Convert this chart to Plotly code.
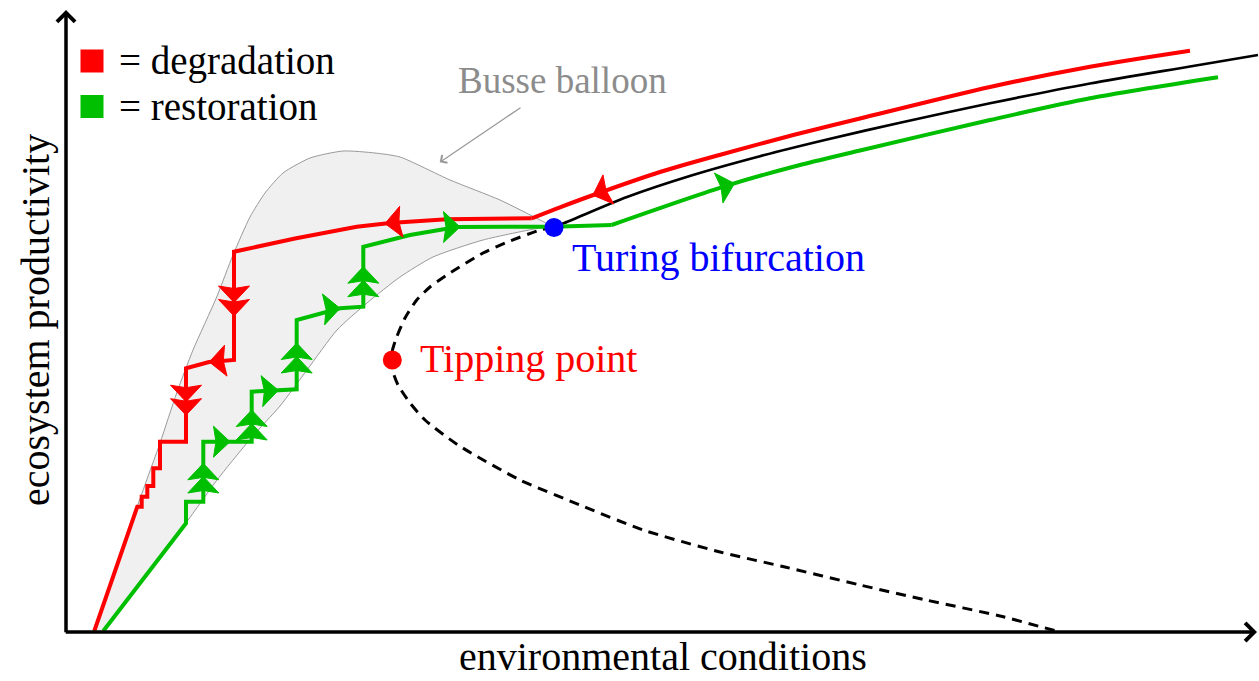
import math
import plotly.graph_objects as go

# ---------------- data (x = environmental conditions, y = ecosystem productivity) -------------
# degradation path (travel order, from high to low environmental conditions)
red_x = [1124, 1024, 924, 794, 727.3, 660.7, 594, 527.3, 494, 465.7, 380.7, 324, 290.7, 229, 168, 168,
         143, 120, 120, 94, 94, 87.3, 87.3, 81.3, 81.3, 75.7, 75.7, 71.3, 28.3]
red_y = [581.3, 565.3, 545, 513.5, 497, 479, 460, 437, 424.7, 413.7, 412.7, 409, 405.3, 393.5, 380.3, 272,
         270, 263.7, 190.3, 190.3, 163.7, 163.7, 146, 146, 135.3, 135.3, 125.3, 125.3, 1]
RED_SMOOTH_END = 10      # first 10 points form the smooth upper branch

# restoration path (travel order, from low to high environmental conditions)
green_x = [37.3, 120, 120, 137.3, 137.3, 185.7, 185.7, 230.7, 230.7, 274, 297.3, 297.3, 344, 390.7,
           487, 545.7, 660.7, 727.3, 794, 924, 1024, 1152]
green_y = [1, 108.7, 130.3, 130.3, 190.3, 190.3, 240.3, 242.7, 312, 323.7, 325.3, 385.3, 397, 405,
           405.3, 407, 446.3, 465.3, 481.5, 512, 533.7, 554.7]
GREEN_SMOOTH_START = 15  # smooth upper branch starts here

# stable uniform vegetation branch
black_x = [487, 497, 561, 627, 694, 761, 834, 924, 1024, 1124, 1192]
black_y = [405, 408.5, 435, 457, 475.8, 492.5, 509.3, 528.7, 548.5, 565.5, 577]

# unstable branch (dashed)
dash_x = [487, 474, 444, 417, 384, 364, 350.7, 339, 330.7, 326.5, 326, 327, 332, 344, 359, 392, 454,
          514, 577, 654, 719, 794, 860, 934, 994]
dash_y = [405, 402, 391, 379, 359, 345, 332, 314, 295, 282, 272, 260, 247, 229, 212, 187, 152,
          127, 102, 80, 65, 47, 32, 16, 0]

# Busse balloon outline
balloon_x = [28, 49, 71, 94, 110.7, 127, 150.7, 167, 184, 199, 217, 244, 277, 309, 334, 384, 434, 474,
             487, 474, 417, 367, 334, 301, 271, 241, 214, 194, 181, 151, 120, 79, 37]
balloon_y = [0, 62, 125, 189, 239, 282, 335, 377, 415, 439, 459, 474, 481, 479, 475, 452, 432, 412,
             405, 404, 392, 375, 355, 329, 302, 262, 226, 204, 189, 152, 109, 54, 0]

# arrow tips along the paths
red_arrow_x = [525.7, 319, 168, 168, 143.3, 120, 120]
red_arrow_y = [440, 408.3, 329.5, 316, 270.3, 230.3, 216.8]
green_arrow_x = [137.3, 137.3, 164, 185.7, 185.7, 212.3, 230.7, 230.7, 274, 297.3, 297.3, 394, 669]
green_arrow_y = [168.7, 155.5, 190.3, 222, 208.5, 243, 289, 275.5, 324, 365.3, 351.8, 405.3, 447]

turing_point = (488, 404.5)
tipping_point = (326.3, 272)

legend_labels = ["= degradation", "= restoration"]
axis_labels = ["environmental conditions", "ecosystem productivity"]

RED = "#ff0000"
GREEN = "#00bf00"
FONT = "Liberation Serif, Times New Roman, serif"
HEAD_LEN, HEAD_WID, HEAD_NOTCH = 16.5, 31, 14


def snap(px_, py_, xs, ys):
    best = None
    for i in range(len(xs) - 1):
        x0, y0, x1, y1 = xs[i], ys[i], xs[i + 1], ys[i + 1]
        dx, dy = x1 - x0, y1 - y0
        L2 = dx * dx + dy * dy
        if L2 == 0:
            continue
        t = max(0.0, min(1.0, ((px_ - x0) * dx + (py_ - y0) * dy) / L2))
        qx, qy = x0 + t * dx, y0 + t * dy
        d = (qx - px_) ** 2 + (qy - py_) ** 2
        if best is None or d < best[0]:
            L = math.sqrt(L2)
            best = (d, qx, qy, dx / L, dy / L)
    return best[1:]


def heads(ax, ay, xs, ys):
    hx, hy = [], []
    for a, b in zip(ax, ay):
        tx, ty, ux, uy = snap(a, b, xs, ys)
        nx, ny = -uy, ux
        bx, by = tx - HEAD_LEN * ux, ty - HEAD_LEN * uy
        hx += [tx, bx + nx * HEAD_WID / 2, tx - HEAD_NOTCH * ux, bx - nx * HEAD_WID / 2, tx, None]
        hy += [ty, by + ny * HEAD_WID / 2, ty - HEAD_NOTCH * uy, by - ny * HEAD_WID / 2, ty, None]
    return hx, hy


fig = go.Figure()

fig.add_trace(go.Scatter(x=balloon_x, y=balloon_y, mode="lines", fill="toself",
                         fillcolor="#f0f0f0", line=dict(color="#9a9a9a", width=1, shape="spline", smoothing=0.6),
                         hoverinfo="skip"))
fig.add_trace(go.Scatter(x=black_x, y=black_y, mode="lines",
                         line=dict(color="black", width=2.7, shape="spline", smoothing=0.8)))
fig.add_trace(go.Scatter(x=dash_x, y=dash_y, mode="lines",
                         line=dict(color="black", width=3, dash="10px,7px", shape="spline", smoothing=0.6)))
fig.add_trace(go.Scatter(x=red_x[:RED_SMOOTH_END], y=red_y[:RED_SMOOTH_END], mode="lines",
                         line=dict(color=RED, width=4, shape="spline", smoothing=0.8)))
fig.add_trace(go.Scatter(x=red_x[RED_SMOOTH_END - 1:], y=red_y[RED_SMOOTH_END - 1:], mode="lines",
                         line=dict(color=RED, width=4)))
fig.add_trace(go.Scatter(x=green_x[:GREEN_SMOOTH_START + 1], y=green_y[:GREEN_SMOOTH_START + 1], mode="lines",
                         line=dict(color=GREEN, width=4)))
fig.add_trace(go.Scatter(x=green_x[GREEN_SMOOTH_START:], y=green_y[GREEN_SMOOTH_START:], mode="lines",
                         line=dict(color=GREEN, width=4, shape="spline", smoothing=0.8)))

rx, ry = heads(red_arrow_x, red_arrow_y, red_x, red_y)
fig.add_trace(go.Scatter(x=rx, y=ry, mode="lines", fill="toself", fillcolor=RED,
                         line=dict(width=1, color=RED), hoverinfo="skip"))
gx, gy = heads(green_arrow_x, green_arrow_y, green_x, green_y)
fig.add_trace(go.Scatter(x=gx, y=gy, mode="lines", fill="toself", fillcolor=GREEN,
                         line=dict(width=1, color=GREEN), hoverinfo="skip"))

fig.add_trace(go.Scatter(x=[turing_point[0]], y=[turing_point[1]], mode="markers",
                         marker=dict(size=19, color="#0000ff")))
fig.add_trace(go.Scatter(x=[tipping_point[0]], y=[tipping_point[1]], mode="markers",
                         marker=dict(size=19, color=RED)))

# legend squares
fig.add_trace(go.Scatter(x=[26, 26], y=[571, 525.5], mode="markers",
                         marker=dict(symbol="square", size=23, color=[RED, GREEN], line=dict(width=0))))

ann = []
for txt, yy in zip(legend_labels, [571, 526]):
    ann.append(dict(x=51, y=yy, text=txt, showarrow=False, xanchor="left", yanchor="middle",
                    font=dict(family=FONT, size=39, color="black")))
ann.append(dict(x=504, y=375, text="Turing bifurcation", showarrow=False, xanchor="left", yanchor="middle",
                font=dict(family=FONT, size=40, color="#0000ff")))
ann.append(dict(x=352, y=274, text="Tipping point", showarrow=False, xanchor="left", yanchor="middle",
                font=dict(family=FONT, size=40, color=RED)))
ann.append(dict(x=496, y=552, text="Busse balloon", showarrow=False, xanchor="center", yanchor="middle",
                font=dict(family=FONT, size=37, color="#8c8c8c")))
ann.append(dict(x=597, y=-49, text=axis_labels[0], showarrow=False, xanchor="center", yanchor="bottom",
                font=dict(family=FONT, size=40, color="black")))
ann.append(dict(x=-31, y=312, text=axis_labels[1], showarrow=False, xanchor="center", yanchor="middle",
                textangle=-90, font=dict(family=FONT, size=40, color="black")))
# balloon pointer
ann.append(dict(x=373.7, y=469.7, ax=456, ay=525.3, axref="x", ayref="y", xref="x", yref="y", text="",
                showarrow=True, arrowhead=4, arrowsize=1.4, arrowwidth=1.3, arrowcolor="#9a9a9a"))
# axes with arrow heads
ann.append(dict(x=1191, y=0, ax=-1.8, ay=0, axref="x", ayref="y", xref="x", yref="y", text="",
                showarrow=True, arrowhead=4, arrowsize=1, arrowwidth=3.5, arrowcolor="black"))
ann.append(dict(x=0, y=622, ax=0, ay=-1.8, axref="x", ayref="y", xref="x", yref="y", text="",
                showarrow=True, arrowhead=4, arrowsize=1, arrowwidth=3.5, arrowcolor="black"))

fig.update_layout(
    width=1259, height=681, margin=dict(l=0, r=0, t=0, b=0),
    plot_bgcolor="white", paper_bgcolor="white", showlegend=False,
    xaxis=dict(range=[-66, 1193], visible=False, fixedrange=True),
    yaxis=dict(range=[-49, 632], visible=False, fixedrange=True),
    annotations=ann,
)

fig.write_html("out.html", config={"displayModeBar": False},
               post_script="document.body.style.margin='0px';document.body.style.overflow='hidden';")
